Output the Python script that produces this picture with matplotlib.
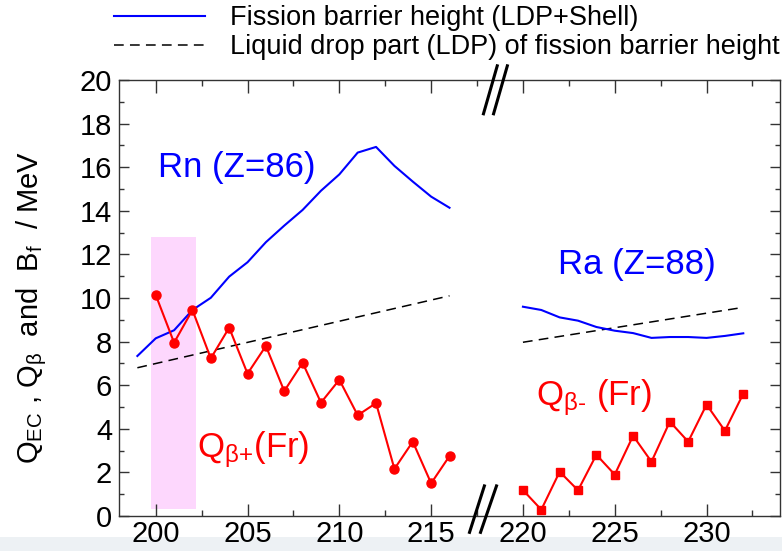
import numpy as np
import matplotlib
matplotlib.use("Agg")
import matplotlib.pyplot as plt
from matplotlib.patches import Rectangle
from matplotlib.ticker import MultipleLocator

plt.rcParams['font.family'] = ['Liberation Sans', 'DejaVu Sans']
plt.rcParams['mathtext.fontset'] = 'custom'
plt.rcParams['mathtext.rm'] = 'Liberation Sans'
plt.rcParams['mathtext.it'] = 'Liberation Sans'
plt.rcParams['lines.scale_dashes'] = False

# Rn (Z=86) fission barrier, mass numbers 199-216
rn_mass = [199, 200, 201, 202, 203, 204, 205, 206, 207, 208, 209, 210, 211, 212, 213, 214, 215, 216]
rn_bf = [7.34, 8.15, 8.52, 9.45, 10.01, 10.98, 11.64, 12.56, 13.32, 14.04, 14.92, 15.67,
         16.67, 16.93, 16.06, 15.34, 14.65, 14.14]
rn_ldp_mass = [199, 216]
rn_ldp = [6.80, 10.10]

# Fr Q_beta+ (EC side), mass numbers 200-216
qbp_mass = [200, 201, 202, 203, 204, 205, 206, 207, 208, 209, 210, 211, 212, 213, 214, 215, 216]
qbp = [10.14, 7.95, 9.45, 7.23, 8.64, 6.53, 7.80, 5.73, 7.03, 5.20, 6.25, 4.62, 5.18,
       2.16, 3.41, 1.50, 2.75]

# Ra (Z=88) fission barrier, mass numbers 220-232
ra_mass = [220, 221, 222, 223, 224, 225, 226, 227, 228, 229, 230, 231, 232]
ra_bf = [9.60, 9.45, 9.11, 8.96, 8.67, 8.50, 8.39, 8.17, 8.21, 8.21, 8.17, 8.26, 8.38]
ra_ldp_mass = [220, 232]
ra_ldp = [7.97, 9.57]

# Fr Q_beta- , mass numbers 220-232
qbm_mass = [220, 221, 222, 223, 224, 225, 226, 227, 228, 229, 230, 231, 232]
qbm = [1.19, 0.29, 2.03, 1.18, 2.81, 1.90, 3.68, 2.49, 4.33, 3.41, 5.11, 3.91, 5.61]

# highlighted mass range
band_x = [199.75, 202.2]
band_y = [0.3, 12.8]

W, H = 782, 551
fig = plt.figure(figsize=(W / 100, H / 100), dpi=100)
ax = fig.add_axes([119 / W, 1 - 516 / H, 661 / W, 436 / H])

ax.add_patch(Rectangle((band_x[0], band_y[0]), band_x[1] - band_x[0], band_y[1] - band_y[0],
                       facecolor='#fdd7fd', edgecolor='none', zorder=1))

l_bf, = ax.plot(rn_mass, rn_bf, color='#0000ff', lw=1.5, zorder=3)
ax.plot(ra_mass, ra_bf, color='#0000ff', lw=1.5, zorder=3)
l_ldp, = ax.plot(rn_ldp_mass, rn_ldp, color='black', lw=1.1, dashes=(7, 4.5), zorder=2)
ax.plot(ra_ldp_mass, ra_ldp, color='black', lw=1.1, dashes=(7, 4.5), zorder=2)

ax.plot(qbp_mass, qbp, color='#ff0000', lw=1.5, marker='o', ms=6.5, zorder=4)
ax.plot(qbm_mass, qbm, color='#ff0000', lw=1.5, marker='s', ms=5.5, zorder=4)

ax.set_xlim(198, 234)
ax.set_ylim(0, 20)
ax.xaxis.set_minor_locator(MultipleLocator(2.5))
ax.yaxis.set_major_locator(MultipleLocator(2))
ax.yaxis.set_minor_locator(MultipleLocator(1))
ax.set_xticks([200, 205, 210, 215, 220, 225, 230])
ax.tick_params(axis='both', which='both', direction='in', top=True, right=True,
               color='#333333', width=1.0, labelsize=21)
ax.tick_params(axis='x', which='major', length=9, pad=3)
ax.tick_params(axis='x', which='minor', length=4.5)
ax.tick_params(axis='y', which='major', length=7, pad=5)
ax.tick_params(axis='y', which='minor', length=3.6)
for s in ax.spines.values():
    s.set_color('#333333')
    s.set_linewidth(1.0)

# labels inside the plot
ax.text(200.1, 15.55, 'Rn (Z=86)', color='#0000ff', fontsize=25, va='baseline')
ax.text(221.9, 11.1, 'Ra (Z=88)', color='#0000ff', fontsize=25, va='baseline')
ax.text(202.27, 2.7, r'Q$_{\mathrm{β}\text{+}}$(Fr)', color='#ff0000', fontsize=25, va='baseline')
ax.text(220.7, 5.09, r'Q$_{\mathrm{β}\text{-}}$ (Fr)', color='#ff0000', fontsize=25, va='baseline')

# axis break marks
for x0, x1 in [(217.85, 218.6), (218.4, 219.15)]:
    ax.plot([x0, x1], [18.45, 20.65], color='black', lw=2.2, clip_on=False, zorder=6)
for x0, x1 in [(217.09, 217.9), (217.69, 218.56)]:
    ax.plot([x0, x1], [-0.75, 1.38], color='black', lw=2.2, clip_on=False, zorder=6)

fig.text(32 / W, 1 - 307 / H, r'Q$_{\mathrm{EC}}$ , Q$_{\mathrm{β}}$  and  B$_{\mathrm{f}}$  / MeV',
         rotation=90, ha='center', va='center', fontsize=21)

fig.legend([l_bf, l_ldp],
           ['Fission barrier height (LDP+Shell)', 'Liquid drop part (LDP) of fission barrier height'],
           loc='upper left', bbox_to_anchor=(114 / W, 1 - 5 / H), frameon=False,
           fontsize=19.5, handlelength=3.36, handletextpad=0.92, labelspacing=0.11,
           borderpad=0, borderaxespad=0)

# pale strip at the bottom of the source picture
fig.patches.append(Rectangle((0, 0), 1, 14 / H, transform=fig.transFigure,
                             facecolor='#edf1f4', edgecolor='none', zorder=-1))

fig.savefig('out.png', dpi=100)
